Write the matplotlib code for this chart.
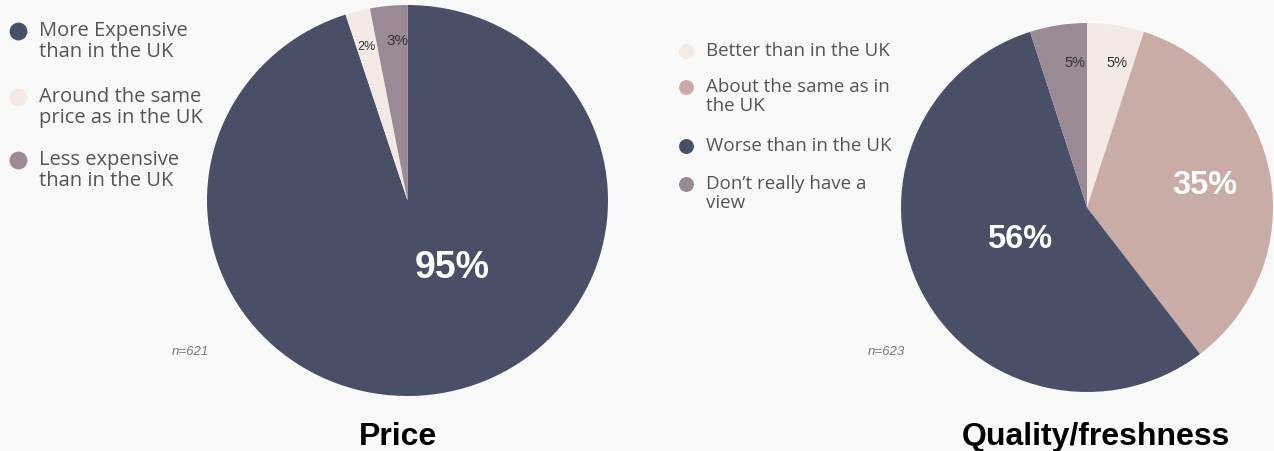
import matplotlib.pyplot as plt

# data
price_labels = ["More Expensive\nthan in the UK", "Around the same\nprice as in the UK", "Less expensive\nthan in the UK"]
price_values = [95, 2, 3]
quality_labels = ["Better than in the UK", "About the same as in\nthe UK", "Worse than in the UK", "Don\u2019t really have a\nview"]
quality_values = [5, 35, 56, 5]

navy = "#4a4f68"
cream = "#f3e9e5"
mauve = "#9a8a95"
rose = "#c9aca6"

W, H = 1274, 452
fig = plt.figure(figsize=(W / 100, H / 100), dpi=100, facecolor="#f9f9f9")
ax = fig.add_axes([0, 0, 1, 1])
ax.set_xlim(0, W)
ax.set_ylim(0, H)
ax.axis("off")

def Y(y):
    return H - y

def pie_axes(x0, y0, x1, y1):
    # pixel box (top-left origin) -> axes holding a pie stretched to fill it
    pa = fig.add_axes([x0 / W, (H - y1) / H, (x1 - x0) / W, (y1 - y0) / H])
    return pa

# left pie: clockwise from top
pa = pie_axes(207, 6, 608, 397)
pa.pie(price_values, colors=[navy, cream, mauve], startangle=90, counterclock=False, radius=1)
pa.set_aspect("auto")
pa.set_xlim(-1, 1)
pa.set_ylim(-1, 1)
pa.axis("off")

# right pie
pb = pie_axes(901, 24, 1273, 393)
pb.pie(quality_values, colors=[cream, rose, navy, mauve], startangle=90, counterclock=False, radius=1)
pb.set_aspect("auto")
pb.set_xlim(-1, 1)
pb.set_ylim(-1, 1)
pb.axis("off")

# slice labels (on the top-level axes, pixel coords)
ax2 = fig.add_axes([0, 0, 1, 1])
ax2.set_xlim(0, W)
ax2.set_ylim(0, H)
ax2.axis("off")

ax2.text(452, Y(268), "95%", color="white", fontsize=27, fontweight="bold",
         family="Liberation Sans", ha="center", va="center")
ax2.text(366, Y(47), "2%", color="#333333", fontsize=9, family="Liberation Sans", ha="center", va="center")
ax2.text(397, Y(41), "3%", color="#333333", fontsize=11, family="Liberation Sans", ha="center", va="center")

ax2.text(1205, Y(186), "35%", color="white", fontsize=23.5, fontweight="bold",
         family="Liberation Sans", ha="center", va="center")
ax2.text(1020, Y(240), "56%", color="white", fontsize=23.5, fontweight="bold",
         family="Liberation Sans", ha="center", va="center")
ax2.text(1075, Y(63), "5%", color="#333333", fontsize=10.5, family="Liberation Sans", ha="center", va="center")
ax2.text(1117, Y(63), "5%", color="#333333", fontsize=10.5, family="Liberation Sans", ha="center", va="center")

# legends
legend_rows_left = [32, 98, 161]
for lab, col, y in zip(price_labels, [navy, cream, mauve], legend_rows_left):
    ax2.scatter([18], [Y(y)], s=165, color=col, zorder=3, linewidths=0)
    ax2.text(39, Y(y - 11), lab, fontsize=14.5, color="#555555", family="Open Sans",
             va="top", ha="left", linespacing=1.05)

legend_rows_right = [52, 88, 147, 185]
for lab, col, y in zip(quality_labels, [cream, rose, navy, mauve], legend_rows_right):
    ax2.scatter([686], [Y(y)], s=115, color=col, zorder=3, linewidths=0)
    ax2.text(706, Y(y - 10), lab, fontsize=13.5, color="#555555", family="Open Sans",
             va="top", ha="left", linespacing=1.1)

ax2.text(190, Y(352), "n=621", fontsize=9.5, style="italic", color="#777777",
         family="Liberation Sans", ha="center", va="center")
ax2.text(886, Y(352), "n=623", fontsize=9.5, style="italic", color="#777777",
         family="Liberation Sans", ha="center", va="center")

# titles
ax2.text(398, Y(437), "Price", fontsize=23, fontweight="bold", family="Liberation Sans",
         ha="center", va="center", color="black")
ax2.text(1096, Y(437), "Quality/freshness", fontsize=23, fontweight="bold", family="Liberation Sans",
         ha="center", va="center", color="black")

fig.savefig("out.png", dpi=100, facecolor=fig.get_facecolor())
